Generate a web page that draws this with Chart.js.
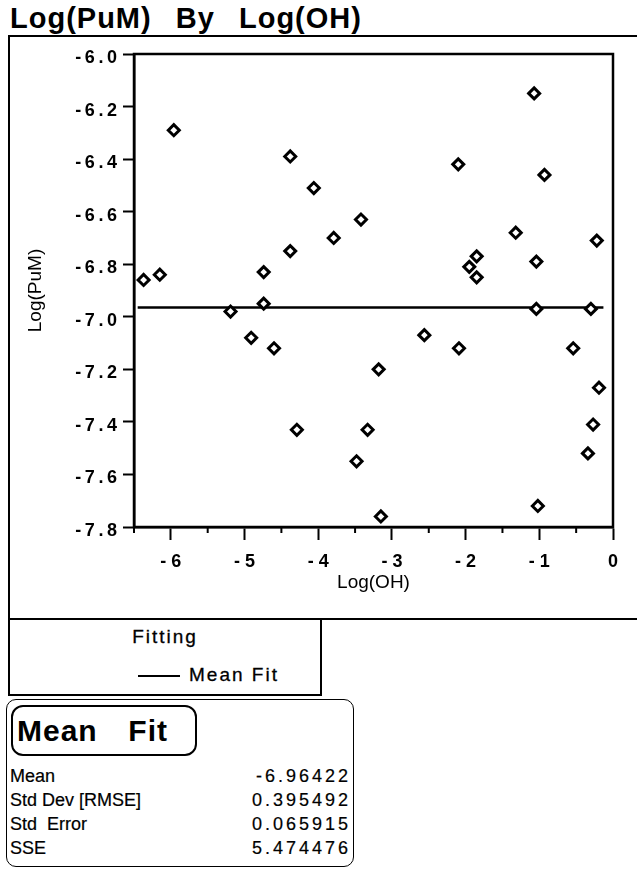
<!DOCTYPE html>
<html>
<head>
<meta charset="utf-8">
<script src="https://cdn.jsdelivr.net/npm/chart.js@4.4.1/dist/chart.umd.min.js"></script>
<style>
  body { margin: 0; width: 637px; height: 869px; background: #fff; position: relative; overflow: hidden;
         font-family: "Liberation Sans", Arial, sans-serif; color: #000; }
  .abs { position: absolute; }
  #plot { position: absolute; left: 0; top: 0; }
  #title { left: 10px; top: 1px; font-size: 29px; font-weight: bold; line-height: 34px;
           letter-spacing: 1px; word-spacing: 3px; white-space: pre; }
  #frame { left: 8px; top: 35px; width: 640px; height: 581px; border-left: 2px solid #000;
           border-top: 2px solid #000; border-bottom: 2px solid #000; }
  #fitbox { left: 8px; top: 618px; width: 310px; height: 76px; border: 2px solid #000; border-top: none; }
  #fitbox .hd { position: absolute; left: 0; width: 100%; top: 8px; text-align: center; font-size: 19px;
                letter-spacing: 2px; -webkit-text-stroke: 0.3px #000; }
  #fitbox .ln { position: absolute; left: 128px; top: 57px; width: 42px; border-top: 2px solid #000; }
  #fitbox .lb { position: absolute; left: 179px; top: 46px; font-size: 19px; letter-spacing: 2px;
                -webkit-text-stroke: 0.3px #000; }
  #stats { left: 6px; top: 699px; width: 346px; height: 166px; border: 1.5px solid #000; border-radius: 10px; }
  #stats .hd { position: absolute; left: 4px; top: 5px; width: 178px; height: 47px; border: 2px solid #000;
               border-radius: 12px; font-size: 30px; font-weight: bold; line-height: 47px; padding-left: 4px;
               letter-spacing: 1px; word-spacing: 6px; white-space: pre; box-sizing: content-box; }
  .row { position: absolute; left: 3px; width: 341px; font-size: 18px; line-height: 21px; white-space: pre;
         -webkit-text-stroke: 0.2px #000; }
  .row .v { position: absolute; right: 0; top: 0; letter-spacing: 3px; }
</style>
</head>
<body>
<div class="abs" id="title">Log(PuM)  By  Log(OH)</div>
<div class="abs" id="frame"></div>
<canvas id="plot" width="637" height="618"></canvas>
<div class="abs" id="fitbox"><div class="hd">Fitting</div><div class="ln"></div><div class="lb">Mean Fit</div></div>
<div class="abs" id="stats"><div class="hd">Mean  Fit</div></div>
<script>
const xVals = [-6.37, -6.15, -5.96, -5.19, -4.91, -4.74, -4.74, -4.60, -4.38, -4.38, -4.29, -4.06,
               -3.79, -3.42, -3.48, -3.33, -3.18, -3.15, -2.56, -2.10, -2.09, -1.95, -1.85, -1.85,
               -1.32, -1.07, -1.04, -1.04, -1.02, -0.93, -0.54, -0.30, -0.34, -0.27, -0.22, -0.19];
const yVals = [-6.86, -6.84, -6.29, -6.98, -7.08, -6.83, -6.95, -7.12, -6.39, -6.75, -7.43, -6.51,
               -6.70, -6.63, -7.55, -7.43, -7.20, -7.76, -7.07, -6.42, -7.12, -6.81, -6.77, -6.85,
               -6.68, -6.15, -6.79, -6.97, -7.72, -6.46, -7.12, -6.97, -7.52, -7.41, -6.71, -7.27];
const meanValue = -6.96422;
const fitRange = [-6.45, -0.13];
const xTickValues = [-6, -5, -4, -3, -2, -1, 0];
const xMinorTicks = [-6.5, -5.5, -4.5, -3.5, -2.5, -1.5, -0.5];
const yTickValues = [-7.8, -7.6, -7.4, -7.2, -7.0, -6.8, -6.6, -6.4, -6.2, -6.0];
const statNames = ['Mean', 'Std Dev [RMSE]', 'Std  Error', 'SSE'];
const statValues = ['-6.96422', '0.395492', '0.065915', '5.474476'];
const statTops = [765, 789, 813, 837];

const FONT = '"Liberation Sans", Arial, sans-serif';

// box round the plot area and the half-unit ticks on the x axis
const frameTicks = {
  id: 'frameTicks',
  beforeDatasetsDraw(chart) {
    const { ctx, chartArea: a, scales: { x } } = chart;
    ctx.save();
    ctx.strokeStyle = '#000';
    ctx.lineWidth = 2.5;
    ctx.strokeRect(a.left, a.top, a.right - a.left, a.bottom - a.top);
    ctx.lineWidth = 2;
    xMinorTicks.forEach(v => {
      const px = x.getPixelForValue(v);
      ctx.beginPath();
      ctx.moveTo(px, a.bottom);
      ctx.lineTo(px, a.bottom + 6);
      ctx.stroke();
    });
    ctx.restore();
  }
};

const ctx = document.getElementById('plot');
const chart = new Chart(ctx, {
  type: 'scatter',
  data: {
    datasets: [
      {
        label: 'Log(PuM)',
        data: xVals.map((x, i) => ({ x: x, y: yVals[i] })),
        pointStyle: 'rectRot',
        pointRadius: 5.5,
        borderWidth: 3,
        borderColor: '#000',
        backgroundColor: '#fff'
      },
      {
        label: 'Mean Fit',
        type: 'line',
        data: fitRange.map(x => ({ x: x, y: meanValue })),
        borderColor: '#000',
        borderWidth: 2.5,
        pointRadius: 0,
        fill: false
      }
    ]
  },
  options: {
    responsive: false,
    animation: false,
    devicePixelRatio: 1,
    events: [],
    layout: { padding: { left: 0, top: 54, right: 24, bottom: 0 } },
    plugins: { legend: { display: false }, tooltip: { enabled: false } },
    scales: {
      x: {
        type: 'linear',
        min: -6.5,
        max: 0,
        afterBuildTicks: s => { s.ticks = xTickValues.map(v => ({ value: v })); },
        afterFit: s => { s.height = 91; },
        grid: { drawOnChartArea: false, drawTicks: true, tickLength: 13, tickWidth: 2, tickColor: '#000' },
        border: { display: true, color: '#000', width: 2.5 },
        ticks: {
          color: '#000', padding: 11, maxRotation: 0, autoSkip: false,
          font: { family: FONT, size: 18, weight: 'bold' },
          callback: v => v < 0 ? '- ' + Math.abs(v) : String(v)
        },
        title: {
          display: true, text: 'Log(OH)', color: '#000',
          font: { family: FONT, size: 19 }, padding: { top: 0, bottom: 24 }
        }
      },
      y: {
        type: 'linear',
        min: -7.8,
        max: -6.0,
        afterBuildTicks: s => { s.ticks = yTickValues.map(v => ({ value: v })); },
        afterFit: s => { s.width = 134; },
        grid: { drawOnChartArea: false, drawTicks: true, tickLength: 11, tickWidth: 2, tickColor: '#000' },
        border: { display: true, color: '#000', width: 2.5 },
        ticks: {
          color: '#000', padding: 6, labelOffset: 4,
          font: { family: FONT, size: 18, weight: 'bold' },
          callback: v => Number(v).toFixed(1).split('').join('\u2009')
        },
        title: {
          display: true, text: 'Log(PuM)', color: '#000',
          font: { family: FONT, size: 19 }, padding: { top: 24, bottom: 0 }
        }
      }
    }
  },
  plugins: [frameTicks]
});

// Mean Fit table rows
const stats = document.getElementById('stats');
statNames.forEach((name, i) => {
  const row = document.createElement('div');
  row.className = 'row';
  row.style.top = (statTops[i] - 699) + 'px';
  row.textContent = name;
  const val = document.createElement('span');
  val.className = 'v';
  val.textContent = statValues[i];
  row.appendChild(val);
  stats.appendChild(row);
});
</script>
</body>
</html>
